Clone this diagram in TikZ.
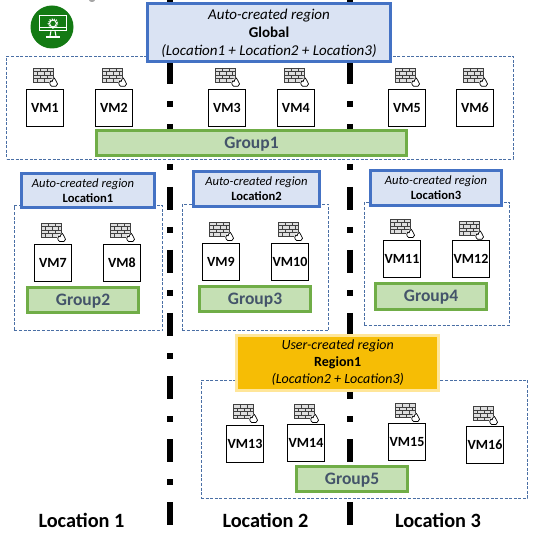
\documentclass[tikz,border=0pt]{standalone}
\usepackage{fontspec}
\setmainfont{Carlito}
\definecolor{regfill}{HTML}{DAE3F3}
\definecolor{regline}{HTML}{4472C4}
\definecolor{grpfill}{HTML}{C5E0B4}
\definecolor{grpline}{HTML}{70AD47}
\definecolor{grptext}{HTML}{44546A}
\definecolor{frameline}{HTML}{4A6FA5}
\definecolor{userfill}{HTML}{F6BD05}
\definecolor{userline}{HTML}{FFE699}
\definecolor{iconbg}{HTML}{137A13}
\tikzset{
  locline/.style={line width=6pt,black,dash pattern=on 23pt off 17pt on 6pt off 17pt},
  zone/.style={draw=frameline,line width=0.6pt,dash pattern=on 3pt off 1.6pt,inner sep=0pt},
  regbox/.style={draw=regline,fill=regfill,line width=3pt,inner sep=0pt,align=center,font=\fontsize{12.6}{15}\selectfont},
  threeline/.style={font=\fontsize{15}{18}\selectfont},
  userbox/.style={draw=userline,fill=userfill,line width=3pt,inner sep=0pt,align=center,font=\fontsize{14}{17.3}\selectfont},
  grpbox/.style={draw=grpline,fill=grpfill,line width=3pt,inner sep=0pt,text=grptext,text height=12.5pt,text depth=2pt,font=\fontsize{17.5}{20}\selectfont\bfseries},
  vmbox/.style={draw=black,fill=white,line width=0.9pt,minimum width=37pt,minimum height=37pt,inner sep=0pt,font=\fontsize{14}{16}\selectfont\bfseries},
  loclabel/.style={inner sep=0pt,font=\fontsize{20.3}{23}\selectfont\bfseries},
  pics/fwall/.style={code={
    \fill[gray!25] (0,0) rectangle (20,14);
    \draw[black!75,line width=0.6pt] (0,0) rectangle (20,14);
    \draw[black!75,line width=0.6pt] (0,3.5)--(20,3.5) (0,7)--(20,7) (0,10.5)--(20,10.5)
      (7,0)--(7,3.5) (14,0)--(14,3.5) (3.5,3.5)--(3.5,7) (10.5,3.5)--(10.5,7) (17,3.5)--(17,7)
      (7,7)--(7,10.5) (14,7)--(14,10.5) (3.5,10.5)--(3.5,14) (10.5,10.5)--(10.5,14);
    \fill[white] (20.5,14.5) circle (4.6);
    \draw[black,line width=0.7pt,line join=round] (18.2,18.2) .. controls (15.6,16.2) and (16.4,13.6) .. (17.6,12.6) .. controls (18.2,13.2) and (18.4,13.4) .. (18.8,13.6) .. controls (19,11.8) and (20,10.6) .. (21,10) .. controls (21,12) and (24.6,13.6) .. (24.2,16) .. controls (24,17.4) and (23.2,18) .. (22.6,18.3) -- cycle;
  }}
}
\begin{document}
\begin{tikzpicture}[x=1pt,y=-1pt]
\useasboundingbox (0,0) rectangle (535,534);
\fill[white] (0,0) rectangle (535,534);
% location separators
\coordinate (sepAtop) at (170,-2);
\coordinate (sepAbot) at (170,526);
\coordinate (sepBtop) at (350,-2);
\coordinate (sepBbot) at (350,526);
\draw[locline] (sepAtop) -- (sepAbot);
\draw[locline] (sepBtop) -- (sepBbot);
% cut-off mark at the top edge
\fill[gray!70] (92,0) ellipse (3 and 2);
% monitor icon
\fill[iconbg] (52,27) circle (21.5);
\draw[white,line width=1pt] (39.5,16) rectangle (66,31);
\draw[white,line width=1pt] (39.5,28) -- (66,28);
\draw[white,line width=1pt] (51,31) -- (50,36) (55,31) -- (56,36);
\draw[white,line width=1.2pt] (46,37) -- (60,37);
\draw[white,line width=1pt] (53,23.5) circle (3.4);
\draw[white,line width=1.4pt,dash pattern=on 1pt off 1.2pt] (53,23.5) circle (4.6);
% zones
\node[zone,minimum width=506.5pt,minimum height=103pt] (zoneGlobal) at (259.75,107.5) {};
\node[zone,minimum width=148.4pt,minimum height=124.6pt] (zoneA) at (88.5,268) {};
\node[zone,minimum width=146.4pt,minimum height=126pt] (zoneB) at (255.5,267.3) {};
\node[zone,minimum width=145.4pt,minimum height=123pt] (zoneC) at (437,263.8) {};
\node[zone,minimum width=326.7pt,minimum height=118pt] (zoneD) at (364.35,439.3) {};
% region headers
\node[regbox,threeline,minimum width=243pt,minimum height=58pt] (regGlobal) at (269,33) {\textit{Auto-created region}\\\textbf{Global}\\\textit{(Location1 + Location2 + Location3)}};
\node[regbox,minimum width=133pt,minimum height=34pt] (regA) at (88,190.8) {\textit{Auto-created region}\hspace*{10pt}\\\textbf{Location1}};
\node[regbox,minimum width=125.4pt,minimum height=34.7pt] (regB) at (256.5,188.8) {\textit{Auto-created region}\\\textbf{Location2}};
\node[regbox,minimum width=131pt,minimum height=34.7pt] (regC) at (436,187.8) {\textit{Auto-created region}\\\textbf{Location3}};
\node[userbox,minimum width=201.7pt,minimum height=54.7pt] (regUser) at (337.7,362.8) {\textit{User-created region}\\\textbf{Region1}\\\textit{(Location2 + Location3)}};
% VMs
\node[vmbox] (vm1) at (45,107.7) {VM1};
\node[vmbox] (vm2) at (114,107.7) {VM2};
\node[vmbox] (vm3) at (227,107.7) {VM3};
\node[vmbox] (vm4) at (295.8,107.7) {VM4};
\node[vmbox] (vm5) at (406.9,107.7) {VM5};
\node[vmbox] (vm6) at (475,107.7) {VM6};
\node[vmbox] (vm7) at (53,262.8) {VM7};
\node[vmbox] (vm8) at (122,262.8) {VM8};
\node[vmbox] (vm9) at (221,262) {VM9};
\node[vmbox] (vm10) at (290,262) {VM10};
\node[vmbox] (vm11) at (402,259) {VM11};
\node[vmbox] (vm12) at (471,259) {VM12};
\node[vmbox] (vm13) at (245,444) {VM13};
\node[vmbox] (vm14) at (306,443) {VM14};
\node[vmbox] (vm15) at (407,442) {VM15};
\node[vmbox] (vm16) at (485,445) {VM16};
% firewalls
\pic at (33.3,68) {fwall};
\pic at (102.3,68) {fwall};
\pic at (215.3,68) {fwall};
\pic at (284.3,68) {fwall};
\pic at (395.3,68) {fwall};
\pic at (463.3,68) {fwall};
\pic at (41.3,223.3) {fwall};
\pic at (110.3,223.3) {fwall};
\pic at (209.3,222.3) {fwall};
\pic at (278.3,222.3) {fwall};
\pic at (390.3,219.3) {fwall};
\pic at (459.3,221) {fwall};
\pic at (233.3,404.3) {fwall};
\pic at (294.3,404.3) {fwall};
\pic at (395.3,403.3) {fwall};
\pic at (473.3,406.3) {fwall};
% groups
\node[grpbox,minimum width=310pt,minimum height=25pt] (grp1) at (251.5,143) {Group1};
\node[grpbox,minimum width=111pt,minimum height=25pt] (grp2) at (83,300) {Group2};
\node[grpbox,minimum width=111pt,minimum height=25pt] (grp3) at (255,299) {Group3};
\node[grpbox,minimum width=111pt,minimum height=25.5pt] (grp4) at (431,296.5) {Group4};
\node[grpbox,minimum width=111pt,minimum height=25pt] (grp5) at (352,479) {Group5};
% location labels
\node[loclabel] (loc1) at (81.5,520) {Location 1};
\node[loclabel] (loc2) at (265.5,520) {Location 2};
\node[loclabel] (loc3) at (438,520) {Location 3};
\end{tikzpicture}
\end{document}
